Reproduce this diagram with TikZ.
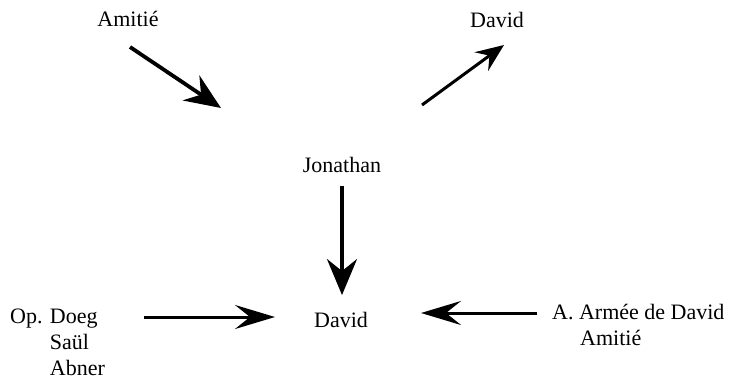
\documentclass[tikz,border=0pt]{standalone}
\usepackage{fontspec}
\setmainfont{Liberation Serif}
\usetikzlibrary{arrows.meta,positioning,calc}

\tikzset{
  actant/.style={inner sep=0pt, font=\fontsize{22}{26}\selectfont},
  fleche/.style={line width=3.8pt, -{Stealth[length=36pt,width=30pt,inset=12pt]}},
  flechelongue/.style={line width=3pt, -{Stealth[length=40pt,width=24pt,inset=15pt]}}
}

\begin{document}
\begin{tikzpicture}[x=1pt,y=1pt]
    \useasboundingbox (0,0) rectangle (729,381);

    \node [actant] (amitie)    at (128,362) {Amitié} ;
    \node [actant] (davidhaut) at (497,361) {David} ;
    \node [actant] (jonathan)  at (342,216) {Jonathan} ;
    \node [actant] (david)     at (341,61)  {David} ;

    \node [actant, anchor=north west, align=left] (opposants) at (10,76)
      {\begin{tabular}{@{}l@{ }l@{}}Op. & Doeg\\ & Saül\\ & Abner\end{tabular}} ;
    \node [actant, anchor=north west, align=left] (adjuvants) at (552,80)
      {\begin{tabular}{@{}l@{}}A. Armée de David\\ \hspace*{28pt}Amitié\end{tabular}} ;

    % bouts libres des fleches
    \coordinate (a1) at (130,334) ;
    \coordinate (a2) at (221,273) ;
    \coordinate (b1) at (422,276) ;
    \coordinate (b2) at (504,336) ;
    \coordinate (c1) at (144,64) ;
    \coordinate (c2) at (275,64) ;
    \coordinate (d1) at (537,68) ;
    \coordinate (d2) at (421,68) ;

    \draw [fleche] (a1) -- (a2) ;
    \draw [fleche, line width=3pt, -{Stealth[length=28pt,width=23pt,inset=10pt]}] (b1) -- (b2) ;
    \draw [fleche, shorten <=13pt, shorten >=17pt] (jonathan.south) -- (jonathan.south |- david.north) ;
    \draw [flechelongue] (c1) -- (c2) ;
    \draw [flechelongue] (d1) -- (d2) ;
  \end{tikzpicture}
\end{document}
